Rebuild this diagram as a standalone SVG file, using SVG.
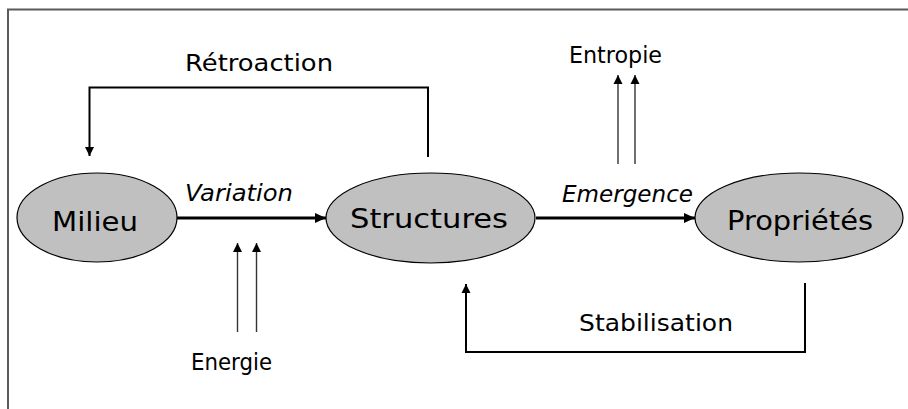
<svg xmlns="http://www.w3.org/2000/svg" width="908" height="409" viewBox="0 0 908 409">
<style>
.node{fill:#c0c0c0;stroke:#000;stroke-width:1.2}
.lbl{font-family:"DejaVu Sans","Liberation Sans",sans-serif;fill:#000}
.big{font-size:26px}
.small{font-size:23px}
.it{font-style:italic}
.thick{fill:none;stroke:#000;stroke-width:3}
.fb{fill:none;stroke:#000;stroke-width:2}
.thin{fill:none;stroke:#333;stroke-width:1.4}
</style>
<defs>
<marker id="ah" markerUnits="userSpaceOnUse" markerWidth="12" markerHeight="12" viewBox="0 0 12 12" refX="11" refY="6" orient="auto">
<path d="M0,1 L11,6 L0,11 Z" fill="#000"/>
</marker>
<marker id="as" markerUnits="userSpaceOnUse" markerWidth="10" markerHeight="10" viewBox="0 0 10 10" refX="9" refY="5" orient="auto">
<path d="M0,0.5 L9,5 L0,9.5 Z" fill="#000"/>
</marker>
</defs>
<rect width="908" height="409" fill="#fff"/>
<path d="M8,409 V9.5 H908" fill="none" stroke="#5a5a5a" stroke-width="2"/>
<g id="connectors">
<line class="thick" x1="177" y1="218" x2="326" y2="218" marker-end="url(#ah)"/>
<line class="thick" x1="536" y1="218" x2="695" y2="218" marker-end="url(#ah)"/>
<path class="fb" d="M428,157 V87.5 H89.5 V156" marker-end="url(#as)"/>
<path class="fb" d="M805,283 V352 H466 V284" marker-end="url(#as)"/>
<line class="thin" x1="237.5" y1="332" x2="237.5" y2="243" marker-end="url(#as)"/>
<line class="thin" x1="256.5" y1="332" x2="256.5" y2="243" marker-end="url(#as)"/>
<line class="thin" x1="618" y1="164" x2="618" y2="75" marker-end="url(#as)"/>
<line class="thin" x1="635" y1="164" x2="635" y2="75" marker-end="url(#as)"/>
</g>
<g id="milieu">
<ellipse class="node" cx="97" cy="217.5" rx="80" ry="44.5"/>
<text class="lbl big" x="52" y="231" textLength="86" lengthAdjust="spacingAndGlyphs">Milieu</text>
</g>
<g id="structures">
<ellipse class="node" cx="430.5" cy="218" rx="104.5" ry="45"/>
<text class="lbl big" x="350" y="228" textLength="158" lengthAdjust="spacingAndGlyphs">Structures</text>
</g>
<g id="proprietes">
<ellipse class="node" cx="799" cy="217.5" rx="104" ry="44.5"/>
<text class="lbl big" x="727" y="230" textLength="146" lengthAdjust="spacingAndGlyphs">Propriétés</text>
</g>
<g id="labels">
<text class="lbl small" x="185" y="71" textLength="148" lengthAdjust="spacingAndGlyphs">Rétroaction</text>
<text class="lbl small" x="569" y="63" textLength="93" lengthAdjust="spacingAndGlyphs">Entropie</text>
<text class="lbl small it" x="185" y="201" textLength="108" lengthAdjust="spacingAndGlyphs">Variation</text>
<text class="lbl small it" x="562" y="202" textLength="131" lengthAdjust="spacingAndGlyphs">Emergence</text>
<text class="lbl small" x="191" y="370" textLength="81" lengthAdjust="spacingAndGlyphs">Energie</text>
<text class="lbl small" x="579" y="331" textLength="154" lengthAdjust="spacingAndGlyphs">Stabilisation</text>
</g>
</svg>
